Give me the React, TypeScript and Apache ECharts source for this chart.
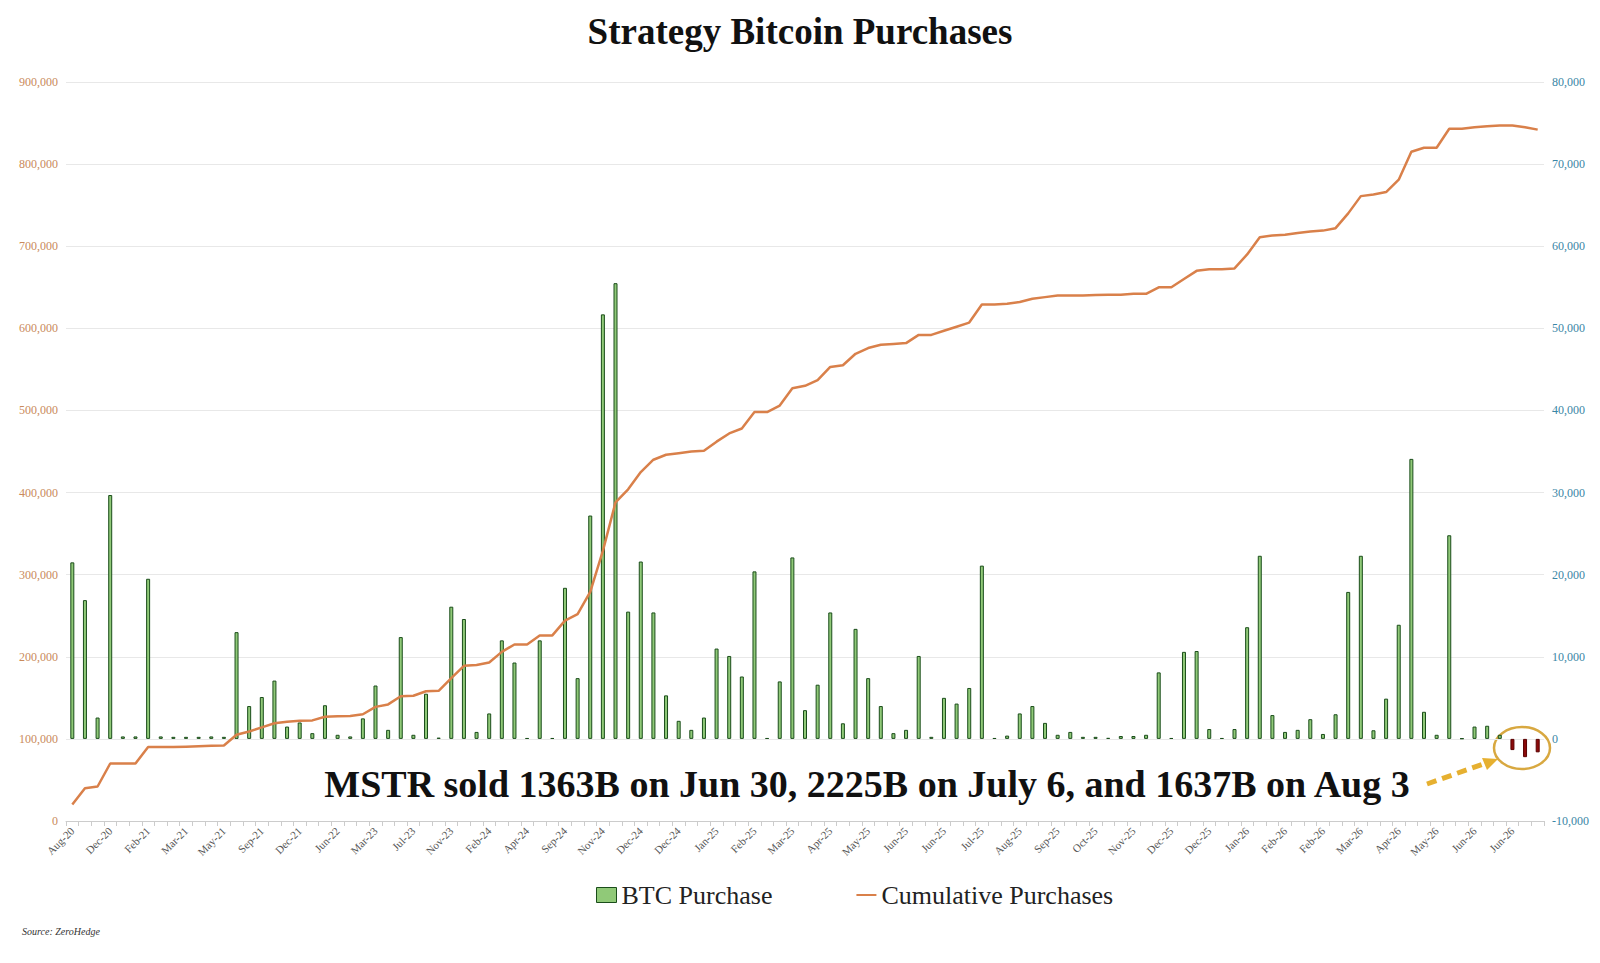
import React, { useEffect, useRef } from "react";
import * as echarts from "echarts";

const tickLabels = ["Aug-20","Dec-20","Feb-21","Mar-21","May-21","Sep-21","Dec-21","Jun-22","Mar-23","Jul-23","Nov-23","Feb-24","Apr-24","Sep-24","Nov-24","Dec-24","Dec-24","Jan-25","Feb-25","Mar-25","Apr-25","May-25","Jun-25","Jun-25","Jul-25","Aug-25","Sep-25","Oct-25","Nov-25","Dec-25","Dec-25","Jan-26","Feb-26","Feb-26","Mar-26","Apr-26","May-26","Jun-26","Jun-26"];

const btcPurchase = [
  21500,16900,2600,29700,300,300,19500,300,250,250,250,300,250,13000,4000,5100,7100,1500,2000,700,
  4100,500,300,2500,6500,1100,12400,500,5500,150,16100,14600,850,3100,12000,9300,100,12000,100,
  18400,7400,27200,51700,55500,15500,21600,15400,5300,2200,1100,2600,11000,10100,7600,20400,100,7000,22100,3500,
  6600,15400,1900,13400,7400,4000,700,1100,10100,250,5000,4300,6200,21100,100,400,3100,4000,1950,500,
  850,250,250,120,350,350,500,8100,100,10600,10700,1200,100,1200,13600,22300,2900,850,1100,2400,
  600,3000,17900,22300,1050,4900,13900,34100,3300,500,24800,50,1500,1600,500,-1363,-2225,-1637
];

const cumulative = [
  20000,40000,42000,70000,70000,70000,90000,90000,90000,90500,91000,91500,92000,
  105000,109000,114000,119000,121000,122000,122500,127000,127500,128000,130000,
  139000,142000,152000,152500,158000,158500,174000,189000,190000,193000,206000,215000,215000,226000,226000,
  244000,252000,279000,329000,388000,404000,425000,440000,446000,448000,450000,451000,462000,472000,478000,498000,498000,
  506000,527000,530000,537000,553000,555000,569000,576000,580000,581000,582000,592000,592000,597000,602000,607000,629000,629000,630000,632000,636000,638000,640000,640000,
  640000,640500,641000,641000,642000,
  642000,650000,650000,660000,670000,672000,672000,673000,690000,711000,713000,714000,716000,718000,719000,722000,
  740000,761000,763000,766000,781000,815000,820000,820000,843000,843000,845000,846000,847000,847000,845000,842000
];

const categories: string[] = [];
tickLabels.forEach((t) => { categories.push(t); categories.push(" "); categories.push("  "); });

const annotation = "MSTR sold 1363B on Jun 30, 2225B on July 6, and 1637B on Aug 3";
const serif = "'Liberation Serif', 'DejaVu Serif', serif";

export default function App() {
  const ref = useRef<HTMLDivElement>(null);
  useEffect(() => {
    const chart = echarts.init(ref.current!, undefined, { renderer: "svg" });
    const fmt = (v: number) => v.toLocaleString("en-US");
    chart.setOption({
      animation: false,
      backgroundColor: "#ffffff",
      textStyle: { fontFamily: serif },
      title: {
        text: "Strategy Bitcoin Purchases",
        left: "center",
        top: 0,
        textStyle: { fontFamily: serif, fontSize: 37, fontWeight: "bold", color: "#111" },
      },
      legend: {
        bottom: 42,
        left: 583,
        itemGap: 84,
        textStyle: { fontFamily: serif, fontSize: 26, color: "#222" },
        data: [
          { name: "BTC Purchase", icon: "rect", itemStyle: { color: "#90c978", borderColor: "#1a4d1a", borderWidth: 1 } },
          { name: "Cumulative Purchases", icon: "path://M0,0 L20,0 L20,2 L0,2 Z" },
        ],
        itemWidth: 20,
        itemHeight: 15,
      },
      grid: { left: 58, right: 45, top: 74, bottom: 134, containLabel: false },
      xAxis: {
        type: "category",
        data: categories,
        boundaryGap: true,
        axisLine: { lineStyle: { color: "#cccccc" } },
        axisTick: { show: true, interval: 0, lineStyle: { color: "#cccccc" } },
        axisLabel: { interval: 0, rotate: 45, fontSize: 11, color: "#555", fontFamily: serif, margin: 8 },
      },
      yAxis: [
        {
          type: "value", min: 0, max: 900000, interval: 100000,
          axisLine: { show: false }, axisTick: { show: false },
          splitLine: { lineStyle: { color: "#e8e8e8" } },
          axisLabel: { color: "#c98a5c", fontSize: 12, fontFamily: serif, formatter: fmt },
        },
        {
          type: "value", min: -10000, max: 80000, interval: 10000,
          axisLine: { show: false }, axisTick: { show: false },
          splitLine: { show: false },
          axisLabel: { color: "#3a86a6", fontSize: 12, fontFamily: serif, formatter: fmt },
        },
      ],
      series: [
        {
          name: "BTC Purchase",
          type: "bar",
          yAxisIndex: 1,
          barWidth: 4,
          data: btcPurchase.map((v) => ({
            value: v,
            itemStyle: v < 0
              ? { color: "#8b0a0a", borderColor: "#5a0000", borderWidth: 1 }
              : { color: "#90c978", borderColor: "#1a4d1a", borderWidth: 1 },
          })),
          itemStyle: { color: "#90c978" },
        },
        {
          name: "Cumulative Purchases",
          type: "line",
          yAxisIndex: 0,
          data: cumulative,
          symbol: "none",
          lineStyle: { color: "#d9804a", width: 2.5 },
          itemStyle: { color: "#d9804a" },
        },
      ],
      graphic: [
        {
          type: "text", x: 859, y: 776,
          style: {
            text: annotation, fontFamily: serif, fontSize: 38, fontWeight: "bold", fill: "#111",
            align: "center", verticalAlign: "middle",
            shadowColor: "rgba(0,0,0,0.55)", shadowBlur: 6, shadowOffsetX: 3, shadowOffsetY: 3,
          },
        },
        {
          type: "line",
          shape: { x1: 1419, y1: 776, x2: 1478, y2: 755 },
          style: { stroke: "#e6b030", lineWidth: 5, lineDash: [10, 6] },
        },
        {
          type: "polygon",
          shape: { points: [[1490, 751], [1474, 750], [1479, 762]] },
          style: { fill: "#e6b030" },
        },
        {
          type: "ellipse",
          shape: { cx: 1514, cy: 740, rx: 28, ry: 21 },
          style: { fill: "none", stroke: "#d8a840", lineWidth: 2.5 },
        },
        {
          type: "text", left: 14, top: 918,
          style: { text: "Source: ZeroHedge", fontFamily: serif, fontSize: 10, fontStyle: "italic", fill: "#333" },
        },
      ],
    });
    return () => chart.dispose();
  }, []);
  return <div ref={ref} style={{ width: 1584, height: 947 }} />;
}
